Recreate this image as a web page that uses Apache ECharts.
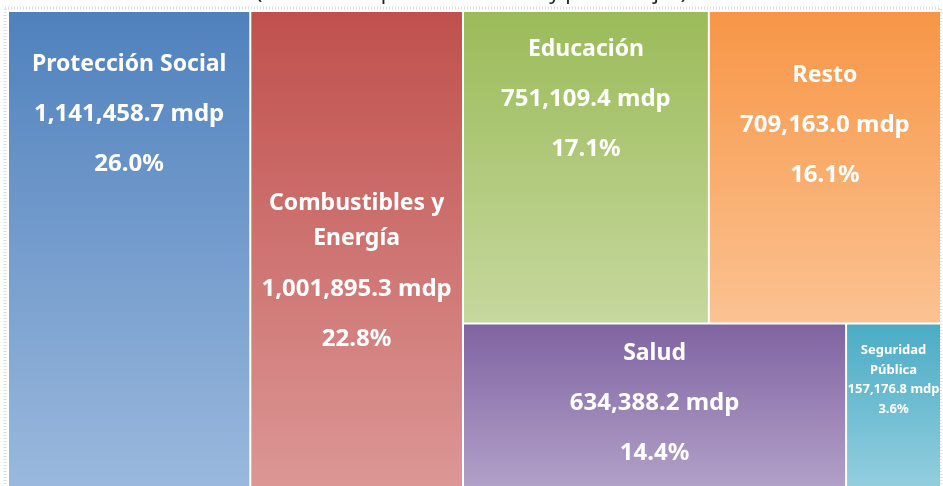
<!DOCTYPE html>
<html>
<head>
<meta charset="utf-8">
<script src="https://cdn.jsdelivr.net/npm/echarts@6/dist/echarts.min.js"></script>
<style>
    html, body { margin: 0; padding: 0; background: #fff; }
    #container { width: 943px; height: 486px; }
</style>
</head>
<body>
<div id="container"></div>
<script type="text/javascript">
    // datos (millones de pesos)
    var categorias = ['Protección Social', 'Combustibles y\nEnergía', 'Educación', 'Resto', 'Salud', 'Seguridad\nPública'];
    var montos = [1141458.7, 1001895.3, 751109.4, 709163.0, 634388.2, 157176.8];
    var porcentajes = [26.0, 22.8, 17.1, 16.1, 14.4, 3.6];

    // estilo
    var colorArriba = ['#4f81bd', '#c0504d', '#9bbb59', '#f79646', '#8064a2', '#4bacc6'];
    var colorAbajo = ['#9bb9dd', '#dc9896', '#c6d89e', '#fbc292', '#b3a2c9', '#95cfdf'];
    var distTop = [27, 182, 12, 38, 4, 16];

    function fmt(v) {
        return v.toLocaleString('en-US', {minimumFractionDigits: 1, maximumFractionDigits: 1});
    }

    var dom = document.getElementById('container');
    var myChart = echarts.init(dom);

    var data = categorias.map(function (name, i) {
        return {
            name: name,
            value: montos[i],
            idx: i,
            itemStyle: {
                color: new echarts.graphic.LinearGradient(0, 0, 0, 1, [
                    {offset: 0, color: colorArriba[i]},
                    {offset: 1, color: colorAbajo[i]}
                ])
            },
            label: {distance: distTop[i]}
        };
    });

    var option = {
        title: {
            text: '(Millones de pesos corrientes y porcentajes)',
            left: 'center',
            top: -22,
            textStyle: {fontFamily: 'Noto Sans', fontWeight: 'normal', fontSize: 21, color: '#222'}
        },
        graphic: [{
            type: 'rect',
            shape: {x: 5, y: 8, width: 935, height: 500},
            style: {fill: 'none', stroke: '#dcdcdc', lineWidth: 3, lineDash: [1, 2]},
            z: -1
        }],
        series: [{
            type: 'treemap',
            left: 9,
            top: 12,
            width: 931,
            height: 480,
            squareRatio: 0.85,
            roam: false,
            nodeClick: false,
            breadcrumb: {show: false},
            emphasis: {disabled: true},
            levels: [{itemStyle: {borderWidth: 0, gapWidth: 2, borderColor: '#fff'}}],
            label: {
                show: true,
                position: 'insideTop',
                padding: 0,
                overflow: 'none',
                color: '#fff',
                fontFamily: 'Noto Sans',
                fontWeight: 'bold',
                fontSize: 23,
                formatter: function (p) {
                    var i = p.data.idx;
                    var v = fmt(montos[i]) + ' mdp';
                    var pc = porcentajes[i].toFixed(1) + '%';
                    if (i === 5) {
                        return categorias[i].split('\n').map(function (s) { return '{s|' + s + '}'; }).join('\n') +
                            '\n{s|' + v + '}\n{s|' + pc + '}';
                    }
                    var partes = categorias[i].split('\n');
                    if (partes.length > 1) {
                        return '{a|' + partes[0] + '}\n{b|' + partes[1] + '}\n{v|' + v + '}\n{v|' + pc + '}';
                    }
                    return '{n|' + partes[0] + '}\n{v|' + v + '}\n{v|' + pc + '}';
                },
                rich: {
                    n: {fontSize: 23, lineHeight: 50, fontWeight: 'bold', fontFamily: 'Noto Sans', color: '#fff'},
                    v: {fontSize: 24, lineHeight: 50, fontWeight: 'bold', fontFamily: 'Noto Sans', color: '#fff'},
                    a: {fontSize: 23, lineHeight: 18, fontWeight: 'bold', fontFamily: 'Noto Sans', color: '#fff'},
                    b: {fontSize: 23, lineHeight: 52, fontWeight: 'bold', fontFamily: 'Noto Sans', color: '#fff'},
                    s: {fontSize: 13, lineHeight: 19.5, fontWeight: 'bold', fontFamily: 'Noto Sans', color: '#fff'}
                }
            },
            data: data
        }]
    };
    myChart.setOption(option, true);
</script>
</body>
</html>
